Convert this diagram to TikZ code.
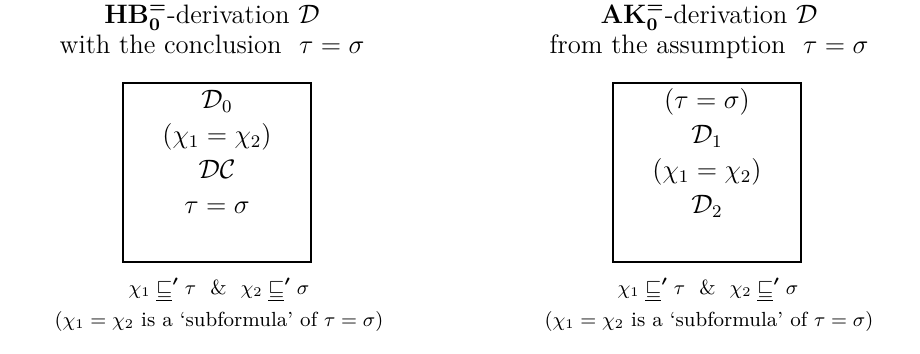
\documentclass[tikz,border=0pt]{standalone}
\usepackage{amsmath,amssymb,bm}
\newcommand{\sqp}{\mathrel{\underline{\sqsubseteq}{}^{\bm{\prime}}}}
\begin{document}
\begin{tikzpicture}[x=0.45pt,y=-0.45pt,
  txt/.style={inner sep=0pt,anchor=base},
  ttl/.style={inner sep=0pt,anchor=north,align=center,font=\fontsize{12}{13.4}\selectfont},
  inbox/.style={txt,font=\fontsize{11.6}{14}\selectfont},
  note/.style={txt,font=\fontsize{9.2}{11}\selectfont},
  frame/.style={draw,line width=0.9pt}]
\useasboundingbox (0,0) rectangle (920,353);
% left column
\node[ttl] (lt) at (212,5) {$\mathbf{HB}_{\mathbf{0}}^{\bm{=}}$-derivation $\mathcal{D}$\\with the conclusion\ \ $\tau=\sigma$};
\draw[frame] (123,83) rectangle (311,262);
\node[inbox] (l1) at (217,108) {$\mathcal{D}_0$};
\node[inbox] (l2) at (217,143) {$(\chi_1=\chi_2)$};
\node[inbox] (l3) at (217,178) {$\mathcal{D}\mathcal{C}$};
\node[inbox] (l4) at (217,213) {$\tau=\sigma$};
\node[note] (lb1) at (219,294) {$\chi_1\sqp\tau$\ \ \&\ \ $\chi_2\sqp\sigma$};
\node[note] (lb2) at (219,326) {$(\chi_1=\chi_2$ is a `subformula' of $\tau=\sigma)$};
% right column
\node[ttl] (rt) at (709,5) {$\mathbf{AK}_{\mathbf{0}}^{\bm{=}}$-derivation $\mathcal{D}$\\from the assumption\ \ $\tau=\sigma$};
\draw[frame] (613,83) rectangle (801,262);
\node[inbox] (r1) at (707,108) {$(\tau=\sigma)$};
\node[inbox] (r2) at (707,143) {$\mathcal{D}_1$};
\node[inbox] (r3) at (707,178) {$(\chi_1=\chi_2)$};
\node[inbox] (r4) at (707,213) {$\mathcal{D}_2$};
\node[note] (rb1) at (708,294) {$\chi_1\sqp\tau$\ \ \&\ \ $\chi_2\sqp\sigma$};
\node[note] (rb2) at (709,326) {$(\chi_1=\chi_2$ is a `subformula' of $\tau=\sigma)$};
\end{tikzpicture}
\end{document}
